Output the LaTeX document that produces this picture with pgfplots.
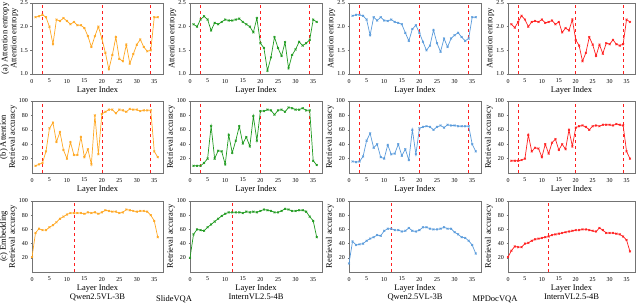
\documentclass[border=0pt]{standalone}
\usepackage{fontspec}
\setmainfont{Liberation Serif}
\usepackage{pgfplots}
\usepackage{pgfplotstable}
\pgfplotsset{compat=1.18}
\definecolor{corange}{HTML}{FFA722}
\definecolor{cgreen}{HTML}{1F9A1F}
\definecolor{cblue}{HTML}{5A9BDB}
\definecolor{cred}{HTML}{FF1F1F}

\pgfplotstableread{
L qs is qm im
1 2.20 2.05 2.23 2.05
2 2.22 2.00 2.25 1.98
3 2.25 2.15 2.25 2.10
4 2.20 2.22 2.23 2.23
5 2.00 2.15 2.15 2.15
6 1.63 1.92 1.82 2.00
7 2.15 2.08 2.20 2.10
8 2.12 2.05 2.13 2.12
9 2.18 2.10 2.20 2.10
10 2.12 2.15 2.13 2.15
11 2.05 2.13 2.12 2.08
12 2.10 2.13 2.15 2.10
13 2.03 2.15 2.10 2.13
14 2.03 2.17 2.08 2.05
15 1.97 2.10 2.05 2.10
16 1.80 2.05 1.87 1.88
17 1.57 2.00 1.70 1.97
18 1.80 1.88 1.95 1.92
19 2.00 2.18 2.03 2.15
20 1.75 1.65 1.87 1.72
21 1.45 1.55 1.68 1.60
22 1.10 1.07 1.50 1.27
23 1.40 1.35 1.60 1.45
24 1.78 1.78 1.93 1.78
25 1.32 1.55 1.65 1.62
26 1.27 1.38 1.47 1.38
27 1.62 1.67 1.75 1.62
28 1.22 1.12 1.57 1.43
29 1.42 1.40 1.75 1.65
30 1.62 1.52 1.82 1.63
31 1.73 1.68 1.87 1.72
32 1.57 1.60 1.78 1.63
33 1.48 1.65 1.70 1.60
34 1.50 1.72 1.75 1.63
35 2.20 2.15 2.20 2.15
36 2.20 2.10 2.20 2.10
}\ent

\pgfplotstableread{
L qs is qm im
1 10 10 16 17
2 12 10 15 17
3 14 10 16 17
4 30 14 23 18
5 62 20 45 20
6 70 65 55 53
7 43 20 35 30
8 57 31 40 35
9 32 30 22 34
10 20 12 20 22
11 43 53 39 40
12 25 28 26 27
13 25 45 27 42
14 50 65 40 47
15 22 41 24 32
16 33 50 33 40
17 12 37 18 33
18 80 79 60 60
19 26 45 26 37
20 82 86 62 63
21 85 86 64 65
22 88 88 65 66
23 88 87 64 64
24 83 81 60 60
25 88 87 64 65
26 87 88 66 66
27 85 85 63 65
28 89 91 67 67
29 88 90 66 67
30 88 88 66 67
31 86 88 65 66
32 87 90 65 68
33 87 87 65 67
34 87 87 65 66
35 30 17 40 30
36 22 11 30 20
}\att

\pgfplotstableread{
L qs is qm im
0 21 20 12 21
1 55 53 43 30
2 61 60 38 36
3 59 59 39 35
4 59 58 40 35
5 63 63 44 40
6 66 67 47 41
7 70 71 49 44
8 75 75 52 46
9 78 79 51 47
10 81 82 58 48
11 83 84 61 49
12 83 84 61 50
13 83 84 59 52
14 83 84 59 53
15 82 83 57 54
16 84 85 58 55
17 83 84 62 56
18 84 85 58 57
19 82 84 57 58
20 84 86 59 59
21 87 88 63 59
22 86 87 63 60
23 85 86 61 60
24 85 84 60 59
25 83 84 60 58
26 84 86 61 57
27 88 89 63 62
28 87 88 61 59
29 86 86 61 55
30 85 86 56 55
31 86 87 53 55
32 86 87 49 54
33 85 85 48 53
34 80 78 44 50
35 72 72 38 45
36 49 49 26 29
}\emb

\pgfplotsset{
  base/.style={scale only axis, xmin=0, xmax=37.5, xtick={0,5,...,35},
    tick pos=left, tick align=outside, major tick length=1.5pt,
    axis line style={draw=black!55, line width=0.5pt},
    every tick/.style={black!55},
    tick label style={font=\fontsize{6}{7}\selectfont},
    yticklabel style={xshift=1pt},
    label style={font=\fontsize{8.5}{9}\selectfont},
    /pgf/number format/assume math mode=true,
    xlabel=Layer Index, xlabel style={yshift=3pt, align=center},
    ylabel style={yshift=-4.5pt, align=center},
    anchor=south west},
  entr/.style={base, ymin=1.0, ymax=2.5, ytick={1.0,1.5,2.0,2.5},
    yticklabel style={/pgf/number format/.cd, fixed, fixed zerofill, precision=1},
    ylabel=Attention entropy},
  acc/.style={base, ymin=0, ymax=100, ytick={20,40,60,80,100},
    ylabel=Retrieval accuracy},
  ln/.style={color=#1, line width=0.7pt, mark=x, mark size=1.3pt, mark options={solid}},
  vl/.style={cred, dashed, line width=0.6pt, forget plot},
}

\begin{document}
\begin{tikzpicture}
\useasboundingbox (0pt,0pt) rectangle (640pt,305pt);

% Row 1
\begin{axis}[entr, at={(32pt,231pt)}, width=131pt, height=71pt,
  ylabel={(a) Attention entropy\\Attention entropy}]
\addplot[vl] coordinates {(3,1)(3,2.5)};
\addplot[vl] coordinates {(20,1)(20,2.5)};
\addplot[vl] coordinates {(34,1)(34,2.5)};
\addplot[ln=corange] table[x=L,y=qs]{\ent};
\end{axis}
\begin{axis}[entr, at={(190pt,231pt)}, width=132pt, height=71pt]
\addplot[vl] coordinates {(3,1)(3,2.5)};
\addplot[vl] coordinates {(20,1)(20,2.5)};
\addplot[vl] coordinates {(34,1)(34,2.5)};
\addplot[ln=cgreen] table[x=L,y=is]{\ent};
\end{axis}
\begin{axis}[entr, at={(349pt,231pt)}, width=132pt, height=71pt]
\addplot[vl] coordinates {(3,1)(3,2.5)};
\addplot[vl] coordinates {(20,1)(20,2.5)};
\addplot[vl] coordinates {(34,1)(34,2.5)};
\addplot[ln=cblue] table[x=L,y=qm]{\ent};
\end{axis}
\begin{axis}[entr, at={(508pt,231pt)}, width=127pt, height=71pt]
\addplot[vl] coordinates {(3,1)(3,2.5)};
\addplot[vl] coordinates {(20,1)(20,2.5)};
\addplot[vl] coordinates {(34,1)(34,2.5)};
\addplot[ln=cred] table[x=L,y=im]{\ent};
\end{axis}

% Row 2
\begin{axis}[acc, at={(32pt,132pt)}, width=131pt, height=72pt,
  ylabel={(b) Attention\\Retrieval accuracy}]
\addplot[vl] coordinates {(3,0)(3,100)};
\addplot[vl] coordinates {(20,0)(20,100)};
\addplot[vl] coordinates {(34,0)(34,100)};
\addplot[ln=corange] table[x=L,y=qs]{\att};
\end{axis}
\begin{axis}[acc, at={(190pt,132pt)}, width=132pt, height=72pt]
\addplot[vl] coordinates {(3,0)(3,100)};
\addplot[vl] coordinates {(20,0)(20,100)};
\addplot[vl] coordinates {(34,0)(34,100)};
\addplot[ln=cgreen] table[x=L,y=is]{\att};
\end{axis}
\begin{axis}[acc, at={(349pt,132pt)}, width=132pt, height=72pt]
\addplot[vl] coordinates {(3,0)(3,100)};
\addplot[vl] coordinates {(20,0)(20,100)};
\addplot[vl] coordinates {(34,0)(34,100)};
\addplot[ln=cblue] table[x=L,y=qm]{\att};
\end{axis}
\begin{axis}[acc, at={(508pt,132pt)}, width=127pt, height=72pt]
\addplot[vl] coordinates {(3,0)(3,100)};
\addplot[vl] coordinates {(20,0)(20,100)};
\addplot[vl] coordinates {(34,0)(34,100)};
\addplot[ln=cred] table[x=L,y=im]{\att};
\end{axis}

% Row 3
\begin{axis}[acc, at={(32pt,33pt)}, width=131pt, height=71pt,
  ylabel={(c) Embedding\\Retrieval accuracy},
  xlabel={Layer Index\\Qwen2.5VL-3B}]
\addplot[vl] coordinates {(12,0)(12,100)};
\addplot[ln=corange] table[x=L,y=qs]{\emb};
\end{axis}
\begin{axis}[acc, at={(190pt,33pt)}, width=132pt, height=71pt,
  xlabel={Layer Index\\InternVL2.5-4B}]
\addplot[vl] coordinates {(12,0)(12,100)};
\addplot[ln=cgreen] table[x=L,y=is]{\emb};
\end{axis}
\begin{axis}[acc, at={(349pt,33pt)}, width=132pt, height=71pt,
  xlabel={Layer Index\\Qwen2.5VL-3B}]
\addplot[vl] coordinates {(12,0)(12,100)};
\addplot[ln=cblue] table[x=L,y=qm]{\emb};
\end{axis}
\begin{axis}[acc, at={(508pt,33pt)}, width=127pt, height=71pt,
  xlabel={Layer Index\\InternVL2.5-4B}]
\addplot[vl] coordinates {(12,0)(12,100)};
\addplot[ln=cred] table[x=L,y=im]{\emb};
\end{axis}

\node[font=\fontsize{8.5}{9.5}\selectfont, anchor=base] at (174pt,3pt) {SlideVQA};
\node[font=\fontsize{8.5}{9.5}\selectfont, anchor=base] at (495pt,3pt) {MPDocVQA};
\end{tikzpicture}
\end{document}
